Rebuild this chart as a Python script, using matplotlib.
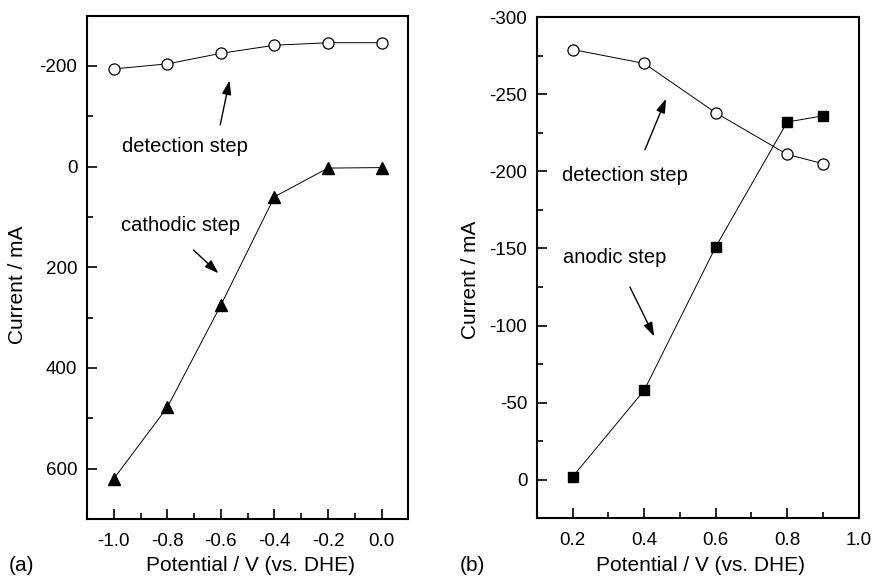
import numpy as np
import matplotlib
matplotlib.use("Agg")
import matplotlib.pyplot as plt
from matplotlib.ticker import MultipleLocator

plt.rcParams['font.family'] = ['Liberation Sans', 'DejaVu Sans']

# panel (a): cathodic
pot_a = [-1.0, -0.8, -0.6, -0.4, -0.2, 0.0]
detect_a = [-194, -204, -225, -241, -246, -246]
cathodic_a = [620, 478, 275, 60, 3, 2]

# panel (b): anodic
pot_b = [0.2, 0.4, 0.6, 0.8, 0.9]
detect_b = [-279, -270, -238, -211, -205]
anodic_b = [-2, -58, -151, -232, -236]

fig = plt.figure(figsize=(8.72, 5.76), dpi=100)
ax1 = fig.add_axes([0.0998, 0.099, 0.3685, 0.874])
ax2 = fig.add_axes([0.6158, 0.1002, 0.3689, 0.870])

line_kw = dict(color='black', lw=0.7)

ax1.plot(pot_a, detect_a, marker='o', ms=8, mfc='white', mec='black', mew=0.9, **line_kw)
ax1.plot(pot_a, cathodic_a, marker='^', ms=9, mfc='black', mec='black', **line_kw)

ax2.plot(pot_b, detect_b, marker='o', ms=8, mfc='white', mec='black', mew=0.9, **line_kw)
ax2.plot(pot_b, anodic_b, marker='s', ms=7, mfc='black', mec='black', **line_kw)

ax1.set_xlim(-1.1, 0.1)
ax1.set_ylim(700, -300)
ax1.xaxis.set_minor_locator(MultipleLocator(0.1))
ax1.yaxis.set_minor_locator(MultipleLocator(100))
ax1.set_xticks([-1.0, -0.8, -0.6, -0.4, -0.2, 0.0])
ax1.set_xticklabels(['-1.0', '-0.8', '-0.6', '-0.4', '-0.2', '0.0'])
ax1.set_yticks([-200, 0, 200, 400, 600])
ax1.set_yticklabels(['-200', '0', '200', '400', '600'])

ax2.set_xlim(0.1, 1.0)
ax2.set_ylim(25, -300)
ax2.set_xticks([0.2, 0.4, 0.6, 0.8, 1.0])
ax2.set_xticklabels(['0.2', '0.4', '0.6', '0.8', '1.0'])
ax2.xaxis.set_minor_locator(MultipleLocator(0.1))
ax2.set_yticks([-300, -250, -200, -150, -100, -50, 0])
ax2.set_yticklabels(['-300', '-250', '-200', '-150', '-100', '-50', '0'])
ax2.yaxis.set_minor_locator(MultipleLocator(25))

for ax in (ax1, ax2):
    for s in ax.spines.values():
        s.set_linewidth(1.5)
    ax.tick_params(which='both', direction='in', top=False, right=False, width=1.2)
    ax.tick_params(which='major', length=7, labelsize=13.5)
    ax.tick_params(which='minor', length=4)
    ax.tick_params(axis='x', which='major', pad=10)
    ax.tick_params(axis='y', which='major', pad=7)
    ax.set_xlabel('Potential / V (vs. DHE)', fontsize=15)
    ax.set_ylabel('Current / mA', fontsize=15)
    ax.xaxis.label.set_va('center')
    ax.yaxis.label.set_va('center')

ax1.xaxis.set_label_coords(0.509, -0.093)
ax1.yaxis.set_label_coords(-0.215, 0.465)
ax2.xaxis.set_label_coords(0.509, -0.094)
ax2.yaxis.set_label_coords(-0.208, 0.476)

arrow = dict(arrowstyle='-|>,head_length=0.6,head_width=0.2', color='black', lw=1.0,
             mutation_scale=14, shrinkA=0, shrinkB=0)
txt = dict(fontsize=14.5, ha='center', va='center')

ax1.text(-0.733, -40, 'detection step', **txt)
ax1.annotate('', xy=(-0.568, -171), xytext=(-0.6025, -83), arrowprops=arrow)
ax1.text(-0.752, 118, 'cathodic step', **txt)
ax1.annotate('', xy=(-0.609, 212), xytext=(-0.702, 166), arrowprops=arrow)

ax2.text(0.346, -197.6, 'detection step', **txt)
ax2.annotate('', xy=(0.461, -247), xytext=(0.402, -214), arrowprops=arrow)
ax2.text(0.318, -144, 'anodic step', **txt)
ax2.annotate('', xy=(0.428, -93), xytext=(0.36, -125), arrowprops=arrow)

fig.text(0.0249, 0.0174, '(a)', fontsize=15, ha='center', va='center')
fig.text(0.542, 0.0174, '(b)', fontsize=15, ha='center', va='center')

fig.savefig('out.png', dpi=100)
